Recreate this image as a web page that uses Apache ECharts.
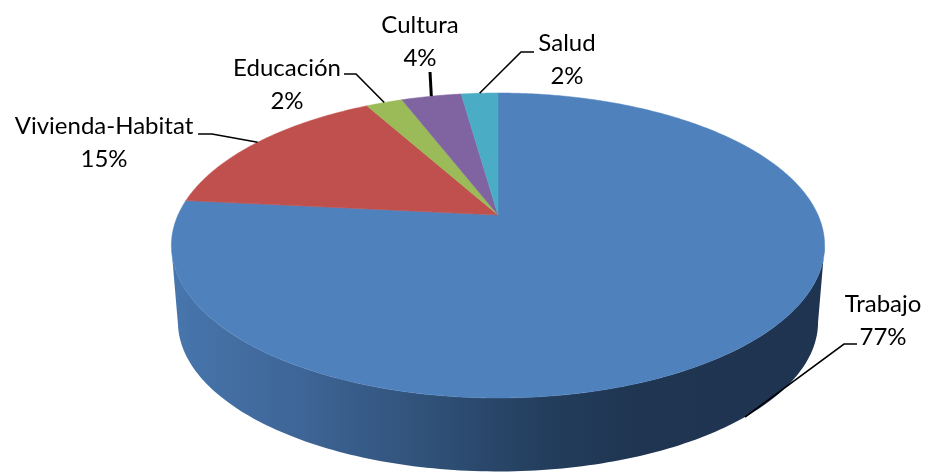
<!DOCTYPE html>
<html>
<head>
<meta charset="utf-8">
<title>Pie</title>
<script src="https://cdn.jsdelivr.net/npm/echarts@6/dist/echarts.min.js"></script>
<style>
html,body{margin:0;padding:0;background:#fff;}
#main{width:926px;height:474px;}
</style>
</head>
<body>
<div id="main"></div>
<script>
// clockwise from 12 o'clock
var categories = ["Trabajo", "Vivienda-Habitat", "Educación", "Cultura", "Salud"];
var values = [76.6, 15.4, 2.2, 3.6, 2.2];
var colors = ["#4f81bd", "#c0504d", "#9bbb59", "#8064a2", "#4bacc6"];

// label centre and leader elbow, by slice
var labelPos = [[883, 305], [104, 127], [287, 69], [420, 26], [567, 44]];
var elbows = [[[857, 344], [844, 344]], [[198, 134], [212, 134]], [[344, 74], [356, 74]], [[430, 72]], [[534, 52], [521, 52]]];

// perspective of the disc
var cx = 498, cy = 215, rx = 320, ry = 146.4, k = 0.2;
var midY = 245.5, lowScale = 0.98, depth = 76.5;

function rim(deg) {
  var a = deg * Math.PI / 180;
  var u = Math.sin(a), v = Math.cos(a), w = 1 + k * v;
  return [cx + rx * u / w, cy - ry * v / w];
}
function low(p) {
  return [cx + (p[0] - cx) * lowScale, midY + (p[1] - midY) * lowScale + depth];
}

var total = values.reduce(function(a, b) { return a + b; }, 0);
var starts = [], run = 0;
values.forEach(function(val) {
  starts.push(run / total * 360);
  run += val;
});

var chart = echarts.init(document.getElementById("main"), null, {renderer: "canvas"});
chart.setOption({
  animation: false,
  backgroundColor: "#fff",
  series: [
    {
      // side wall, front half of the disc
      type: "custom",
      coordinateSystem: "none",
      silent: true,
      data: [0],
      renderItem: function() {
        var limit = Math.acos(-k) * 180 / Math.PI;
        var top = [], bottom = [];
        for (var d = limit; d <= 360 - limit; d += 1) {
          top.push(rim(d));
          bottom.unshift(low(rim(d)));
        }
        return {
          type: "polygon",
          shape: {points: top.concat(bottom)},
          style: {
            fill: new echarts.graphic.LinearGradient(0, 0, 1, 0, [
              {offset: 0, color: "#4776ad"},
              {offset: 0.2, color: "#3e6596"},
              {offset: 0.42, color: "#2e4e74"},
              {offset: 0.58, color: "#233d5c"},
              {offset: 0.72, color: "#1f3551"},
              {offset: 1, color: "#1f3450"}
            ])
          }
        };
      }
    },
    {
      type: "custom",
      coordinateSystem: "none",
      silent: true,
      data: values,
      renderItem: function(params, api) {
        var i = params.dataIndex;
        var from = starts[i], to = from + api.value(0) / total * 360;
        var pts = [[cx, cy]];
        for (var d = from; d < to; d += 0.5) {
          pts.push(rim(d));
        }
        pts.push(rim(to));
        return {
          type: "polygon",
          shape: {points: pts},
          style: {fill: colors[i], stroke: colors[i], lineWidth: 0.5}
        };
      }
    },
    {
      // labels and leader lines
      type: "custom",
      coordinateSystem: "none",
      silent: true,
      data: values,
      renderItem: function(params, api) {
        var i = params.dataIndex;
        var val = api.value(0);
        var end = rim(starts[i] + val / total * 180);
        // Trabajo's leader lands on the lower rim
        if (i == 0) {
          end = low(end);
        }
        var pos = labelPos[i];
        return {
          type: "group",
          children: [
            {
              type: "polyline",
              shape: {points: elbows[i].concat([end])},
              style: {fill: null, stroke: "#000", lineWidth: i == 3 ? 3 : 1.6}
            },
            {
              type: "text",
              style: {
                x: pos[0],
                y: pos[1],
                text: categories[i] + "\n" + Math.round(val / total * 100) + "%",
                align: "center",
                verticalAlign: "top",
                lineHeight: 33,
                fill: "#000",
                font: "24px Lato"
              },
              y: -17
            }
          ]
        };
      }
    }
  ]
});
</script>
</body>
</html>
